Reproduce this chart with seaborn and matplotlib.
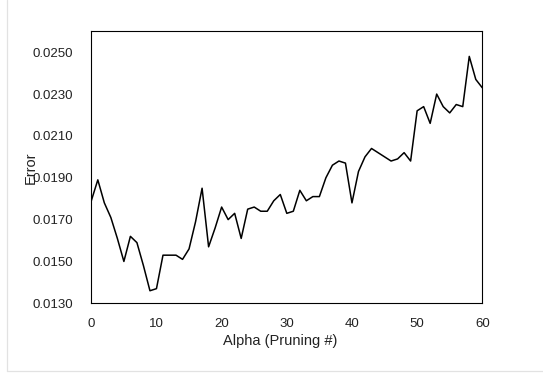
import matplotlib
matplotlib.use("Agg")
import matplotlib.pyplot as plt
from matplotlib.lines import Line2D
import seaborn as sns
import pandas as pd

# Cross-validated error for each pruning step
alpha = list(range(0, 61))
error = [0.0179, 0.0189, 0.0178, 0.0171, 0.0161, 0.0150, 0.0162, 0.0159, 0.0148, 0.0136,
         0.0137, 0.0153, 0.0153, 0.0153, 0.0151, 0.0156, 0.0169, 0.0185, 0.0157, 0.0166,
         0.0176, 0.0170, 0.0173, 0.0161, 0.0175, 0.0176, 0.0174, 0.0174, 0.0179, 0.0182,
         0.0173, 0.0174, 0.0184, 0.0179, 0.0181, 0.0181, 0.0190, 0.0196, 0.0198, 0.0197,
         0.0178, 0.0193, 0.0200, 0.0204, 0.0202, 0.0200, 0.0198, 0.0199, 0.0202, 0.0198,
         0.0222, 0.0224, 0.0216, 0.0230, 0.0224, 0.0221, 0.0225, 0.0224, 0.0248, 0.0237,
         0.0233]
x_ticks = [0, 10, 20, 30, 40, 50, 60]
y_ticks = [0.0130, 0.0150, 0.0170, 0.0190, 0.0210, 0.0230, 0.0250]

sns.set_style("white")
plt.rcParams["font.family"] = ["Liberation Sans", "DejaVu Sans"]

df = pd.DataFrame({"alpha": alpha, "error": error})

fig = plt.figure(figsize=(5.43, 3.74), dpi=100)
ax = fig.add_axes([91.3 / 543, 1 - 303.3 / 374, (482.3 - 91.3) / 543, (303.3 - 31.3) / 374])

sns.lineplot(data=df, x="alpha", y="error", ax=ax, color="black", linewidth=1.1)

ax.set_xlim(0, 60)
ax.set_ylim(0.013, 0.026)
ax.set_xticks(x_ticks)
ax.set_yticks(y_ticks)
ax.set_yticklabels([f"{v:.4f}" for v in y_ticks])

for s in ax.spines.values():
    s.set_visible(True)
    s.set_color("black")
    s.set_linewidth(0.8)

ax.tick_params(axis="both", which="major", direction="out", length=4.5, width=0.8,
               color="black", labelsize=9.5, labelcolor="#222222")
ax.tick_params(axis="y", pad=8.5)
ax.tick_params(axis="x", pad=6)

ax.set_xlabel("Alpha (Pruning #)", fontsize=10.5, color="#222222", va="baseline")
ax.xaxis.set_label_coords(0.483, -0.1515)
ax.set_ylabel("Error", fontsize=10.5, color="#222222", va="center")
ax.yaxis.set_label_coords(-0.154, 0.5)

# light frame along the left and bottom of the canvas
fig.add_artist(Line2D([6.5 / 543, 6.5 / 543], [1.0, 1 - 371 / 374], transform=fig.transFigure,
                      color="#e2e2e2", linewidth=0.9))
fig.add_artist(Line2D([6.5 / 543, 1.0], [1 - 371 / 374, 1 - 371 / 374], transform=fig.transFigure,
                      color="#e2e2e2", linewidth=0.9))

fig.savefig("out.png", dpi=100)
